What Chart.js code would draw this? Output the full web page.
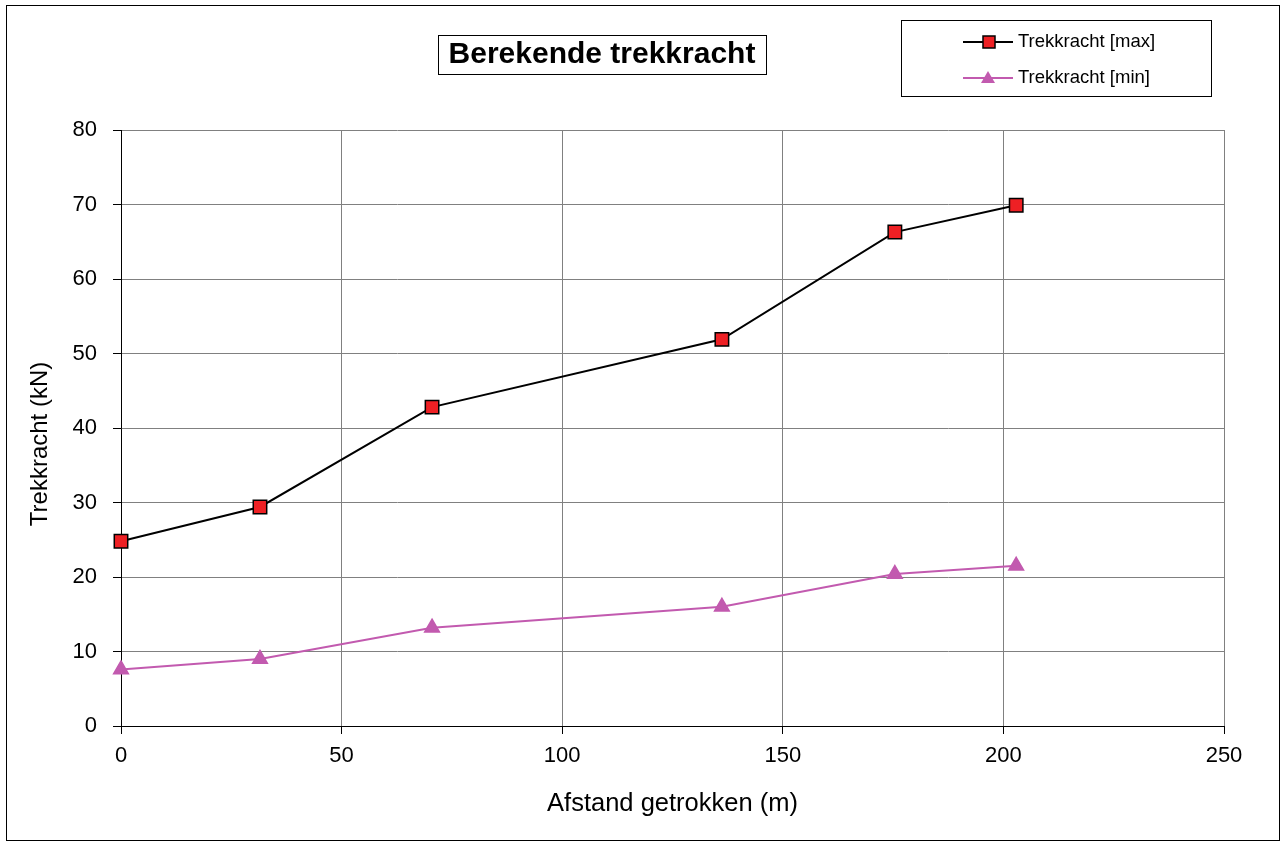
<!DOCTYPE html>
<html>
<head>
<meta charset="utf-8">
<script src="https://cdn.jsdelivr.net/npm/chart.js@4/dist/chart.umd.min.js"></script>
<style>
  html, body { margin: 0; padding: 0; background: #fff; }
  #wrap { width: 1285px; height: 845px; position: relative; }
</style>
</head>
<body>
<div id="wrap"><canvas id="c"></canvas></div>
<script>
// Afstand (m) per meetpunt
const afstand = [0, 31.5, 70.5, 136.2, 175.4, 202.9];
const trekMax = [24.8, 29.4, 42.8, 51.9, 66.3, 69.9];
const trekMin = [7.6, 9.0, 13.2, 16.0, 20.4, 21.5];
const xTicks = [0, 50, 100, 150, 200, 250];
const yTicks = [0, 10, 20, 30, 40, 50, 60, 70, 80];

const FONT = '"Liberation Sans", Arial, sans-serif';
const toPts = ys => afstand.map((x, i) => ({ x, y: ys[i] }));

// outer frame, title box, legend box, y axis title
const decor = {
  id: 'decor',
  afterDraw(chart) {
    const g = chart.ctx;
    g.save();
    g.strokeStyle = '#000';
    g.lineWidth = 1;
    g.strokeRect(6.5, 5.5, 1273, 835);

    // title
    g.fillStyle = '#fff';
    g.fillRect(438, 35, 328, 39);
    g.strokeRect(438.5, 35.5, 328, 39);
    g.fillStyle = '#000';
    g.font = 'bold 30px ' + FONT;
    g.textAlign = 'center';
    g.textBaseline = 'middle';
    g.fillText('Berekende trekkracht', 602, 55);

    // y axis title
    g.save();
    g.translate(40, 444);
    g.rotate(-Math.PI / 2);
    g.font = '24px ' + FONT;
    g.fillText('Trekkracht (kN)', 0, 0);
    g.restore();

    // legend
    g.strokeRect(901.5, 20.5, 310, 76);
    g.font = '18.5px ' + FONT;
    g.textAlign = 'left';
    chart.data.datasets.forEach((ds, i) => {
      const y = 42 + i * 36;
      g.strokeStyle = ds.borderColor;
      g.lineWidth = 2;
      g.beginPath(); g.moveTo(963, y); g.lineTo(1013, y); g.stroke();
      g.lineWidth = 1;
      g.fillStyle = ds.pointBackgroundColor;
      if (ds.pointStyle === 'rect') {
        g.fillRect(983, y - 6, 12, 12);
        g.strokeStyle = '#000';
        g.lineWidth = 1.5;
        g.strokeRect(983, y - 6, 12, 12);
      } else {
        g.beginPath(); g.moveTo(988, y - 7); g.lineTo(995, y + 5); g.lineTo(981, y + 5); g.closePath(); g.fill();
      }
      g.fillStyle = '#000';
      g.textBaseline = 'middle';
      g.fillText(ds.label, 1018, y);
    });
    g.restore();
  }
};

new Chart(document.getElementById('c'), {
  type: 'scatter',
  data: {
    datasets: [
      {
        label: 'Trekkracht [max]',
        data: toPts(trekMax),
        showLine: true,
        borderColor: '#000',
        borderWidth: 2,
        pointStyle: 'rect',
        pointRadius: 9.5,
        pointBackgroundColor: '#ee2024',
        pointBorderColor: '#000',
        pointBorderWidth: 1.5,
        clip: false
      },
      {
        label: 'Trekkracht [min]',
        data: toPts(trekMin),
        showLine: true,
        borderColor: '#c25aaf',
        borderWidth: 2,
        pointStyle: 'triangle',
        pointRadius: 8.5,
        pointBackgroundColor: '#c25aaf',
        pointBorderColor: '#c25aaf',
        pointBorderWidth: 1.5,
        clip: false
      }
    ]
  },
  options: {
    responsive: true,
    maintainAspectRatio: false,
    animation: false,
    layout: { padding: { left: 0, right: 61, top: 130, bottom: 0 } },
    plugins: { legend: { display: false }, tooltip: { enabled: false } },
    scales: {
      x: {
        type: 'linear',
        min: 0, max: 250,
        afterBuildTicks: s => { s.ticks = xTicks.map(v => ({ value: v })); },
        afterFit: s => { s.height = 119; },
        grid: { color: '#808080', tickColor: '#000', tickLength: 8, lineWidth: 1 },
        border: { color: '#000', width: 1 },
        ticks: { color: '#000', font: { family: FONT, size: 22 }, padding: 9, maxRotation: 0 },
        title: { display: true, text: 'Afstand getrokken (m)', color: '#000', font: { family: FONT, size: 25.5 }, padding: { top: 0, bottom: 26 } }
      },
      y: {
        min: 0, max: 80,
        afterBuildTicks: s => { s.ticks = yTicks.map(v => ({ value: v })); },
        afterFit: s => { s.width = 121; },
        grid: { color: '#808080', tickColor: '#000', tickLength: 8, lineWidth: 1 },
        border: { color: '#000', width: 1 },
        ticks: { color: '#000', font: { family: FONT, size: 22 }, padding: 16 },
        title: { display: false }
      }
    }
  },
  plugins: [decor]
});
</script>
</body>
</html>
